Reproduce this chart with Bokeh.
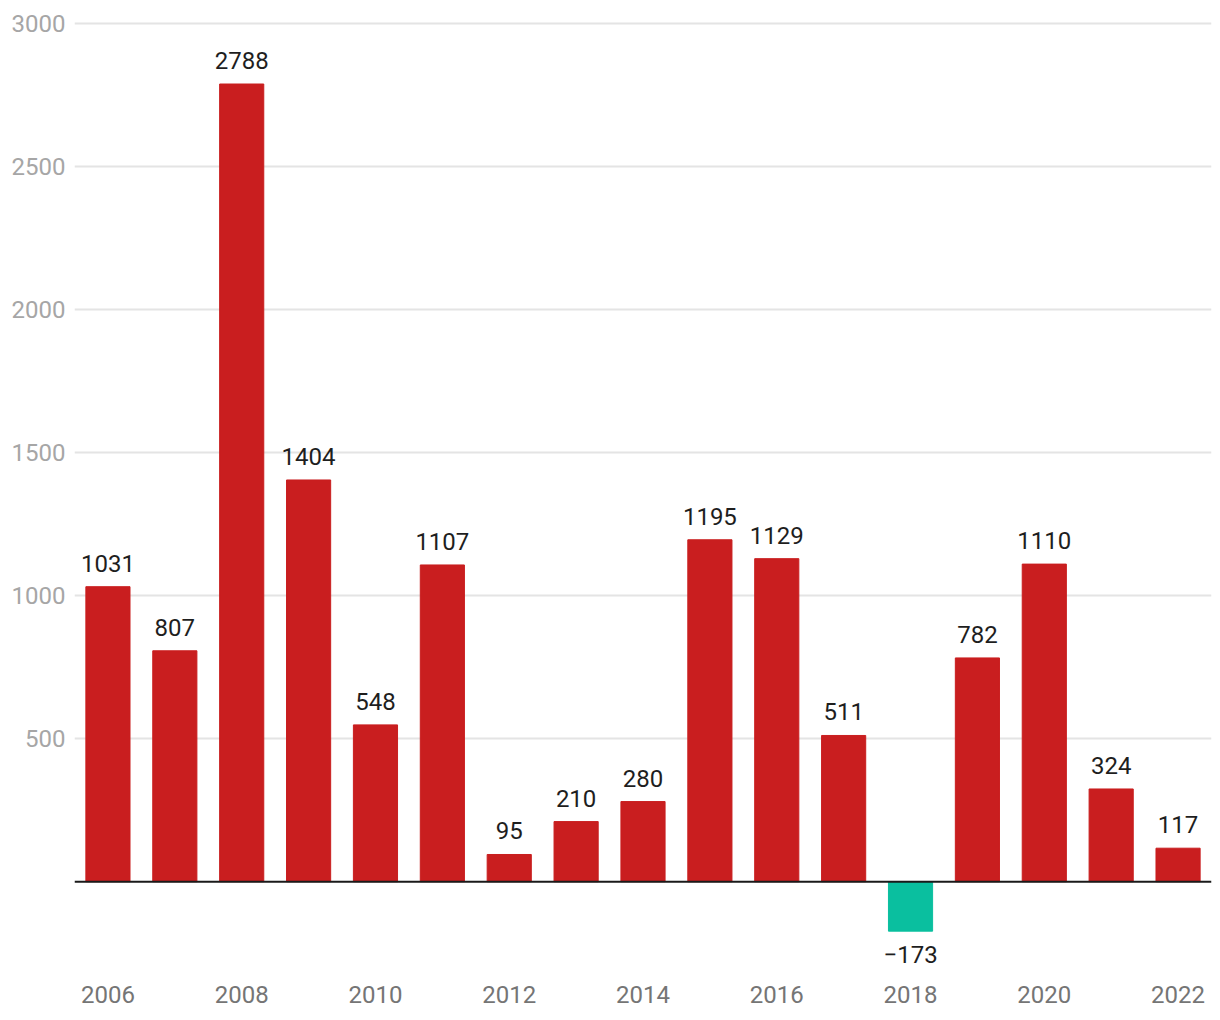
from bokeh.plotting import figure
from bokeh.models import ColumnDataSource, Range1d, FixedTicker, Span
from bokeh.core.properties import value
from bokeh.embed import file_html
from bokeh.resources import INLINE

years = [2006, 2007, 2008, 2009, 2010, 2011, 2012, 2013, 2014, 2015, 2016, 2017, 2018, 2019, 2020, 2021, 2022]
values = [1031, 807, 2788, 1404, 548, 1107, 95, 210, 280, 1195, 1129, 511, -173, 782, 1110, 324, 117]
y_ticks = [500, 1000, 1500, 2000, 2500, 3000]
x_ticks = [2006, 2008, 2010, 2012, 2014, 2016, 2018, 2020, 2022]

RED = "#c91e1f"
TEAL = "#0abf9f"
FONT = "Roboto"
FS = "24px"

colors = [RED if v >= 0 else TEAL for v in values]
labels = [str(v) if v >= 0 else "\u2212" + str(-v) for v in values]

src = ColumnDataSource(dict(x=years, top=values, color=colors))
pos = ColumnDataSource(dict(x=[y for y, v in zip(years, values) if v >= 0],
                            y=[v for v in values if v >= 0],
                            t=[l for l, v in zip(labels, values) if v >= 0]))
neg = ColumnDataSource(dict(x=[y for y, v in zip(years, values) if v < 0],
                            y=[v for v in values if v < 0],
                            t=[l for l, v in zip(labels, values) if v < 0]))

p = figure(width=1212, height=1012, output_backend="svg", toolbar_location=None,
           x_range=Range1d(years[0] - 0.5, years[-1] + 0.5),
           y_range=Range1d(-300, 3010),
           min_border_left=74, min_border_right=1, min_border_top=20, min_border_bottom=45)
p.outline_line_color = None
p.background_fill_color = "white"
p.border_fill_color = "white"

p.vbar(x="x", top="top", bottom=0, width=0.66, color="color", source=src)
p.add_layout(Span(location=0, dimension="width", line_color="#1a1a1a", line_width=2))

p.text(x="x", y="y", text="t", source=pos, text_align="center", text_baseline="bottom",
       y_offset=-15, text_font=value(FONT), text_font_size=FS, text_color="#1e1e1e")
p.text(x="x", y="y", text="t", source=neg, text_align="center", text_baseline="top",
       y_offset=15, text_font=value(FONT), text_font_size=FS, text_color="#1e1e1e")

p.xgrid.visible = False
p.ygrid.ticker = FixedTicker(ticks=y_ticks)
p.ygrid.grid_line_color = "#e4e4e4"
p.ygrid.grid_line_width = 2

p.yaxis.ticker = FixedTicker(ticks=y_ticks)
p.yaxis.axis_line_color = None
p.yaxis.major_tick_line_color = None
p.yaxis.minor_tick_line_color = None
p.yaxis.major_tick_in = 0
p.yaxis.major_tick_out = 0
p.yaxis.major_label_standoff = 9
p.yaxis.major_label_text_font = FONT
p.yaxis.major_label_text_font_size = FS
p.yaxis.major_label_text_color = "#a6a6a6"

p.xaxis.ticker = FixedTicker(ticks=x_ticks)
p.xaxis.axis_line_color = None
p.xaxis.major_tick_line_color = None
p.xaxis.minor_tick_line_color = None
p.xaxis.major_tick_in = 0
p.xaxis.major_tick_out = 0
p.xaxis.major_label_standoff = 18
p.xaxis.major_label_text_font = FONT
p.xaxis.major_label_text_font_size = FS
p.xaxis.major_label_text_color = "#757575"

open("out.html", "w").write(file_html(p, INLINE))
